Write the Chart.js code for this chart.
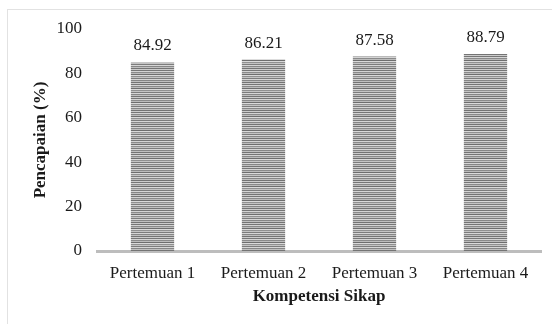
<!DOCTYPE html>
<html>
<head>
<meta charset="utf-8">
<script src="https://cdn.jsdelivr.net/npm/chart.js@4"></script>
<style>
  html, body { margin: 0; padding: 0; background: #fff; }
  #wrap { position: relative; width: 552px; height: 324px; }
  #frame { position: absolute; left: 7px; top: 9px; right: 0; bottom: 0;
           border-top: 1px solid #e2e2e2; border-left: 1px solid #e2e2e2; }
  canvas { position: absolute; left: 0; top: 0; }
</style>
</head>
<body>
<div id="wrap">
  <div id="frame"></div>
  <canvas id="chart" width="552" height="324"></canvas>
</div>
<script>
const categories = ['Pertemuan 1', 'Pertemuan 2', 'Pertemuan 3', 'Pertemuan 4'];
const values = [84.92, 86.21, 87.58, 88.79];
const yTicks = [0, 20, 40, 60, 80, 100];

const FONT = "'Liberation Serif', 'Times New Roman', serif";

// horizontal striped fill like the original
const makeStripes = () => {
  const c = document.createElement('canvas');
  c.width = 4;
  c.height = 14;
  const g = c.getContext('2d');
  const shades = ['#767676', '#d4d4d4', '#8a8a8a', '#bcbcbc', '#6e6e6e', '#dadada', '#909090',
                  '#c4c4c4', '#7c7c7c', '#d6d6d6', '#868686', '#c0c0c0', '#747474', '#cccccc'];
  shades.forEach((s, i) => {
    g.fillStyle = s;
    g.fillRect(0, i, 4, 1);
  });
  return g.createPattern(c, 'repeat');
};

const valueLabels = {
  id: 'valueLabels',
  afterDatasetsDraw(chart) {
    const ctx = chart.ctx;
    const meta = chart.getDatasetMeta(0);
    ctx.save();
    ctx.font = '17px ' + FONT;
    ctx.fillStyle = '#1a1a1a';
    ctx.textAlign = 'center';
    ctx.textBaseline = 'bottom';
    meta.data.forEach((bar, i) => {
      ctx.fillText(values[i].toFixed(2), bar.x, bar.y - 8);
    });
    ctx.restore();
  }
};

const ctx = document.getElementById('chart').getContext('2d');
new Chart(ctx, {
  type: 'bar',
  data: {
    labels: categories,
    datasets: [{
      data: values,
      backgroundColor: makeStripes(),
      borderWidth: 0,
      categoryPercentage: 1,
      barPercentage: 0.39
    }]
  },
  options: {
    responsive: false,
    animation: false,
    layout: { padding: { top: 29, right: 11, left: 0, bottom: 0 } },
    plugins: {
      legend: { display: false },
      tooltip: { enabled: false }
    },
    scales: {
      y: {
        min: 0,
        max: 100,
        afterBuildTicks: (scale) => {
          scale.ticks = yTicks.map(v => ({ value: v }));
        },
        afterFit: (scale) => { scale.width = 97; },
        grid: { display: false, drawTicks: false },
        border: { display: false },
        ticks: {
          padding: 15,
          color: '#1a1a1a',
          font: { family: FONT, size: 17 }
        },
        title: {
          display: true,
          text: 'Pencapaian (%)',
          color: '#1a1a1a',
          padding: { top: 30, bottom: 0 },
          font: { family: FONT, size: 17, weight: 'bold' }
        }
      },
      x: {
        afterFit: (scale) => { scale.height = 73; },
        grid: { display: false, drawTicks: false },
        border: { display: true, color: '#bdbdbd', width: 3 },
        ticks: {
          padding: 12,
          color: '#1a1a1a',
          font: { family: FONT, size: 17 }
        },
        title: {
          display: true,
          text: 'Kompetensi Sikap',
          color: '#1a1a1a',
          padding: { top: 0, bottom: 17 },
          font: { family: FONT, size: 17, weight: 'bold' }
        }
      }
    }
  },
  plugins: [valueLabels]
});
</script>
</body>
</html>
